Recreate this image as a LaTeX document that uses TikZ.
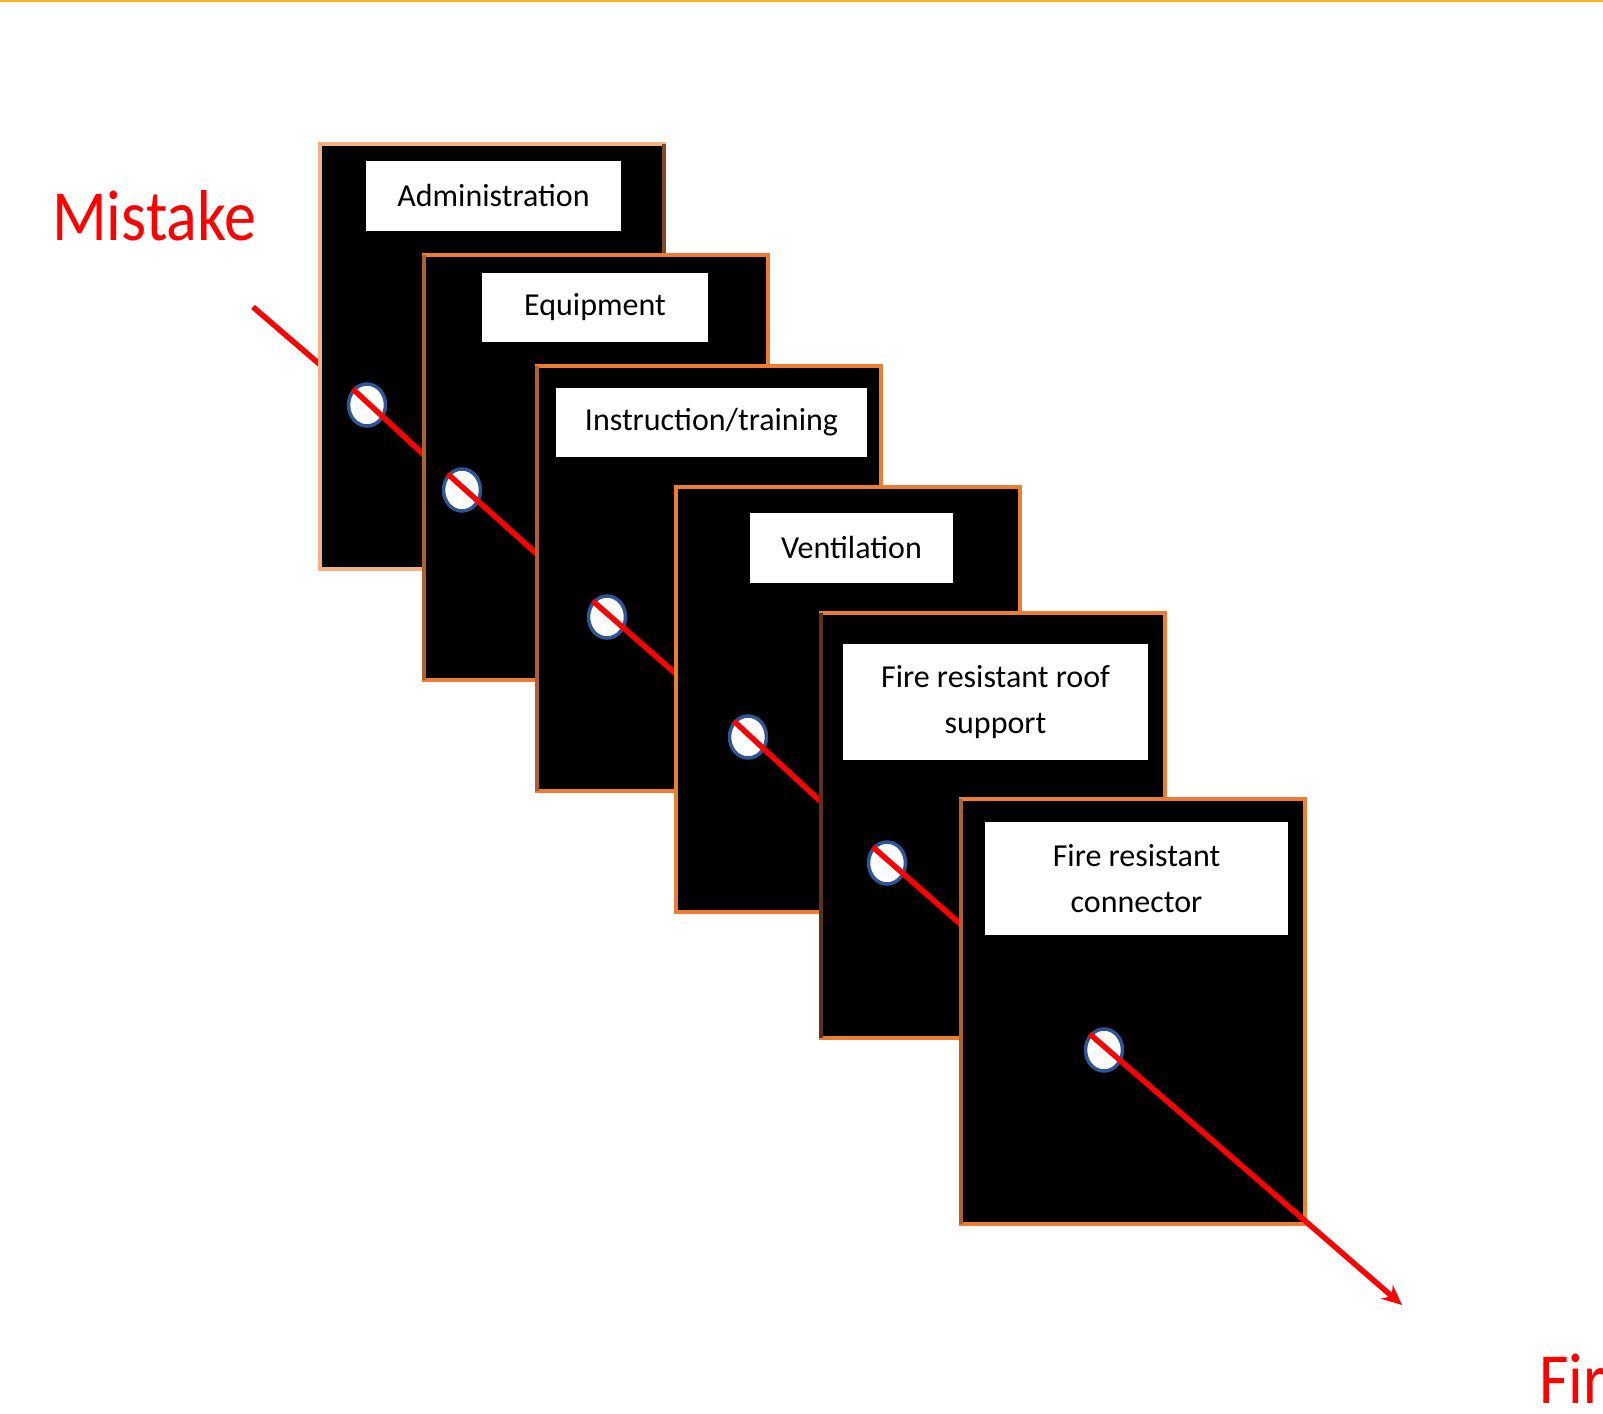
\documentclass[tikz,border=0pt]{standalone}
\usepackage{fontspec}
\setmainfont{Carlito}
\usetikzlibrary{arrows.meta,shapes.geometric}
\definecolor{boxorange}{HTML}{ED7D31}
\definecolor{boxpeach}{HTML}{F4B183}
\definecolor{boxbrown}{HTML}{B0602A}
\definecolor{boxdark}{HTML}{5C3317}
\definecolor{ringblue}{HTML}{2F5597}
\definecolor{topline}{HTML}{FFB320}
\definecolor{mred}{HTML}{FF0000}
\tikzset{
  layerbox/.style={rectangle, fill=black, draw=#1, line width=4pt, anchor=north west,
    minimum width=344pt, minimum height=425pt, inner sep=0pt, outer sep=0pt},
  lbl/.style={rectangle, fill=white, inner sep=0pt, align=center, text=black,
    font=\fontsize{32}{46}\selectfont},
  hole/.style={ellipse, fill=white, draw=ringblue, line width=3.5pt,
    minimum width=37pt, minimum height=42pt, inner sep=0pt},
  redline/.style={draw=mred, line width=5.5pt},
  bigred/.style={text=mred, font=\fontsize{72}{80}\selectfont, anchor=base west, inner sep=0pt}
}
\begin{document}
\begin{tikzpicture}[x=1pt,y=-1pt]
\useasboundingbox (0,0) rectangle (1603,1413);
\fill[white] (0,0) rectangle (1603,1413);
\draw[topline, line width=3pt] (0,1) -- (1603,1);
\begin{scope}
\clip (0,0) rectangle (1603,1413);
\node[bigred] (mistake) at (52,240) {\scalebox{0.89}[1]{Mistake}};
\node[bigred] (fire) at (1539,1403) {\scalebox{0.89}[1]{Fire}};
\end{scope}
\coordinate (m0) at (253,307);
\coordinate (p1) at (367,405);
\coordinate (p2) at (462,490);
\coordinate (p3) at (607,617);
\coordinate (p4) at (748,737);
\coordinate (p5) at (887,863);
\coordinate (p6) at (1104,1050);
\coordinate (tip) at (1402,1305);
\draw[redline] (m0) -- (p1);
% box 1
\node[layerbox=boxpeach] (b1) at (320,144) {};
\draw[boxdark!70!boxorange, line width=4pt] (b1.north east) -- (b1.south east);
\node[lbl, minimum width=255pt, minimum height=70pt] (l1) at (493.5,196) {Administration};
\node[hole] (c1) at (p1) {};
\draw[redline] (c1.north west) -- (p2);
% box 2
\node[layerbox=boxorange] (b2) at (424,255) {};
\draw[boxbrown, line width=4pt] (b2.north west) -- (b2.south west);
\node[lbl, minimum width=226pt, minimum height=69pt] (l2) at (595,307) {Equipment};
\node[hole] (c2) at (p2) {};
\draw[redline] (c2.north west) -- (p3);
% box 3
\node[layerbox=boxorange] (b3) at (537,366) {};
\draw[boxbrown, line width=4pt] (b3.north west) -- (b3.south west);
\node[lbl, minimum width=311pt, minimum height=69pt] (l3) at (711.5,422.5) {Instruction/training};
\node[hole] (c3) at (p3) {};
\draw[redline] (c3.north west) -- (p4);
% box 4
\node[layerbox=boxorange] (b4) at (676,487) {};
\node[lbl, minimum width=203pt, minimum height=70pt] (l4) at (851.5,548) {Ventilation};
\node[hole] (c4) at (p4) {};
\draw[redline] (c4.north west) -- (p5);
% box 5
\node[layerbox=boxorange] (b5) at (821,613) {};
\draw[boxdark, line width=4pt] (b5.north west) -- (b5.south west);
\node[lbl, minimum width=305pt, minimum height=116pt] (l5) at (995.5,702) {Fire resistant roof\\support};
\node[hole] (c5) at (p5) {};
\draw[redline] (c5.north west) -- (p6);
% box 6
\node[layerbox=boxorange] (b6) at (961,799) {};
\draw[boxbrown, line width=4pt] (b6.north west) -- (b6.south west);
\node[lbl, minimum width=303pt, minimum height=113pt] (l6) at (1136.5,878.5) {Fire resistant\\connector};
\node[hole] (c6) at (p6) {};
\draw[redline, -{Stealth[length=20pt,width=18pt]}] (c6.north west) -- (tip);
\end{tikzpicture}
\end{document}
